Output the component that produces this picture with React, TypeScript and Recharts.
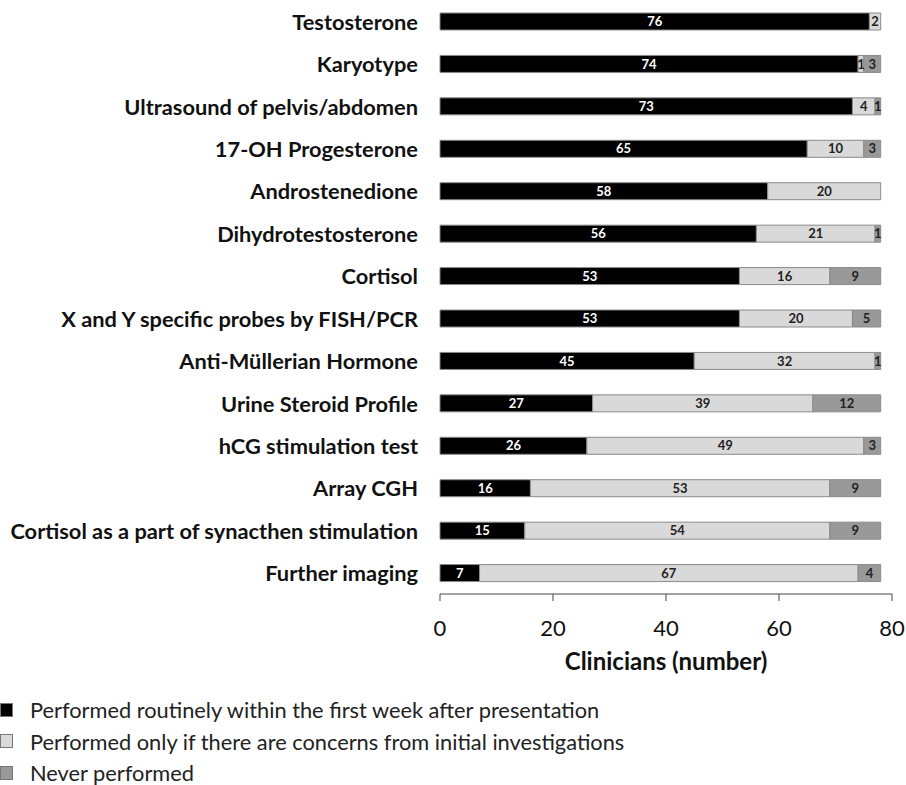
import React from 'react';
import { BarChart, Bar, XAxis, YAxis, LabelList, Label } from 'recharts';

const categories = [
  'Testosterone',
  'Karyotype',
  'Ultrasound of pelvis/abdomen',
  '17-OH Progesterone',
  'Androstenedione',
  'Dihydrotestosterone',
  'Cortisol',
  'X and Y specific probes by FISH/PCR',
  'Anti-Müllerian Hormone',
  'Urine Steroid Profile',
  'hCG stimulation test',
  'Array CGH',
  'Cortisol as a part of synacthen stimulation',
  'Further imaging',
];
const routine = [76, 74, 73, 65, 58, 56, 53, 53, 45, 27, 26, 16, 15, 7];
const ifConcerns = [2, 1, 4, 10, 20, 21, 16, 20, 32, 39, 49, 53, 54, 67];
const never = [0, 3, 1, 3, 0, 1, 9, 5, 1, 12, 3, 9, 9, 4];
const xTicks = [0, 20, 40, 60, 80];
const seriesNames = [
  'Performed routinely within the first week after presentation',
  'Performed only if there are concerns from initial investigations',
  'Never performed',
];
const colors = ['#000000', '#d9d9d9', '#999999'];

const data = categories.map((c, i) => ({
  name: c,
  routine: routine[i],
  ifConcerns: ifConcerns[i],
  never: never[i],
}));

const FONT = 'Lato, "Open Sans", sans-serif';

const fmt = (v: any) => (v ? v : '');

const YTick = (props: any) => {
  const { x, y, payload } = props;
  return (
    <text x={x} y={y} textAnchor="end" dominantBaseline="central" fontFamily={FONT} fontWeight="bold" fontSize={21.8} fill="#111">
      {payload.value}
    </text>
  );
};

const XTick = (props: any) => {
  const { x, y, payload } = props;
  return (
    <g>
      <line x1={x} x2={x} y1={y} y2={y + 7} stroke="#444" strokeWidth={1} />
      <text x={x} y={y + 33} textAnchor="middle" dominantBaseline="central" fontFamily={FONT} fontSize={22} fill="#111">
        {payload.value}
      </text>
    </g>
  );
};

export default function App() {
  return (
    <div style={{ position: 'absolute', left: 0, top: 0, width: 906, height: 785, background: '#fff' }}>
      <BarChart
        width={906}
        height={700}
        data={data}
        layout="vertical"
        margin={{ top: 0, right: 14, bottom: 24, left: 0 }}
        barSize={17}
      >
        <XAxis
          type="number"
          domain={[0, 80]}
          ticks={xTicks}
          tickLine={false}
          axisLine={{ stroke: '#444' }}
          tick={<XTick />}
          height={82}
          tickSize={0}
          tickMargin={0}
          interval={0}
        >
          <Label value="Clinicians (number)" position="insideBottom" offset={6} fontFamily={FONT} fontWeight="bold" fontSize={24} fill="#111" />
        </XAxis>
        <YAxis
          type="category"
          dataKey="name"
          width={440}
          axisLine={false}
          tickLine={false}
          tickSize={0}
          tickMargin={22}
          tick={<YTick />}
          interval={0}
        />
        <Bar dataKey="routine" stackId="a" fill={colors[0]} stroke="#8a8a8a" strokeWidth={1} isAnimationActive={false}>
          <LabelList dataKey="routine" position="center" formatter={fmt} fill="#ffffff" fontSize={13} fontWeight="bold" fontFamily={FONT} />
        </Bar>
        <Bar dataKey="ifConcerns" stackId="a" fill={colors[1]} stroke="#8a8a8a" strokeWidth={1} isAnimationActive={false}>
          <LabelList dataKey="ifConcerns" position="center" formatter={fmt} fill="#222" fontSize={13} fontWeight="bold" fontFamily={FONT} />
        </Bar>
        <Bar dataKey="never" stackId="a" fill={colors[2]} stroke="#8a8a8a" strokeWidth={1} isAnimationActive={false}>
          <LabelList dataKey="never" position="center" formatter={fmt} fill="#222" fontSize={13} fontWeight="bold" fontFamily={FONT} />
        </Bar>
      </BarChart>
      <div style={{ position: 'absolute', left: 0, top: 694, fontFamily: FONT, fontSize: 21.8, color: '#222' }}>
        {seriesNames.map((n, i) => (
          <div key={n} style={{ display: 'flex', alignItems: 'center', height: 31.5 }}>
            <span style={{ display: 'inline-block', width: 11, height: 12, background: colors[i], border: '1px solid #777', marginRight: 17 }} />
            <span>{n}</span>
          </div>
        ))}
      </div>
    </div>
  );
}
